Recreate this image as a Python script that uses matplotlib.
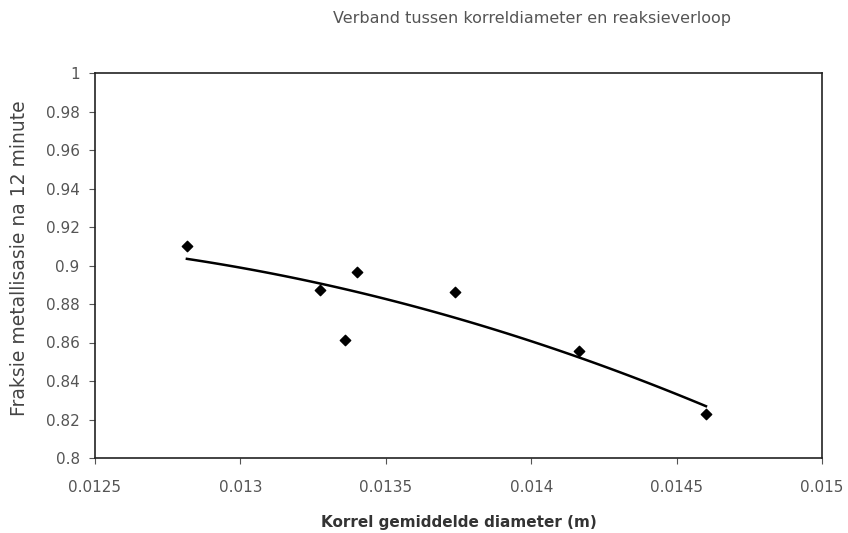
import numpy as np
import matplotlib.pyplot as plt

plt.rcParams['font.family'] = ['DejaVu Sans']

# korrel diameter (m) vs fraksie metallisasie na 12 minute
diameter = [0.012816, 0.013274, 0.01336, 0.013401, 0.013738, 0.014164, 0.014601]
metallisasie = [0.910, 0.8875, 0.8615, 0.8964, 0.886, 0.8557, 0.823]

xticks = [0.0125, 0.013, 0.0135, 0.014, 0.0145, 0.015]
xtick_labels = ['0.0125', '0.013', '0.0135', '0.014', '0.0145', '0.015']
yticks = [0.8, 0.82, 0.84, 0.86, 0.88, 0.9, 0.92, 0.94, 0.96, 0.98, 1]
ytick_labels = ['0.8', '0.82', '0.84', '0.86', '0.88', '0.9', '0.92', '0.94', '0.96', '0.98', '1']

W, H = 848, 533
fig = plt.figure(figsize=(W / 100, H / 100), dpi=100)
ax = fig.add_axes([95 / W, 1 - 458 / H, (822 - 95) / W, (458 - 73) / H])

# polinoom tendenslyn (2de orde)
coef = np.polyfit(diameter, metallisasie, 2)
xs = np.linspace(min(diameter), max(diameter), 100)
ax.plot(xs, np.polyval(coef, xs), color='black', lw=1.8)

ax.scatter(diameter, metallisasie, marker='D', s=28, color='black', zorder=3)

ax.set_xlim(0.0125, 0.015)
ax.set_ylim(0.8, 1)
ax.set_xticks(xticks)
ax.set_xticklabels(xtick_labels)
ax.set_yticks(yticks)
ax.set_yticklabels(ytick_labels)
ax.tick_params(labelsize=11, colors='#555555', length=4, width=0.8)
ax.tick_params(axis='x', pad=12)
ax.tick_params(axis='y', pad=7)
for s in ax.spines.values():
    s.set_linewidth(1.2)
    s.set_color('#222222')

fig.text(459 / W, 1 - 523 / H, 'Korrel gemiddelde diameter (m)', ha='center', va='center',
         fontsize=11, fontweight='bold', color='#333333')
fig.text(20 / W, 1 - 258 / H, 'Fraksie metallisasie na 12 minute', ha='center', va='center',
         rotation=90, fontsize=13.5, color='#444444')
fig.text(532 / W, 1 - 18 / H, 'Verband tussen korreldiameter en reaksieverloop',
         ha='center', va='center', fontsize=11.5, color='#555555')

plt.savefig('out.png', dpi=100)
